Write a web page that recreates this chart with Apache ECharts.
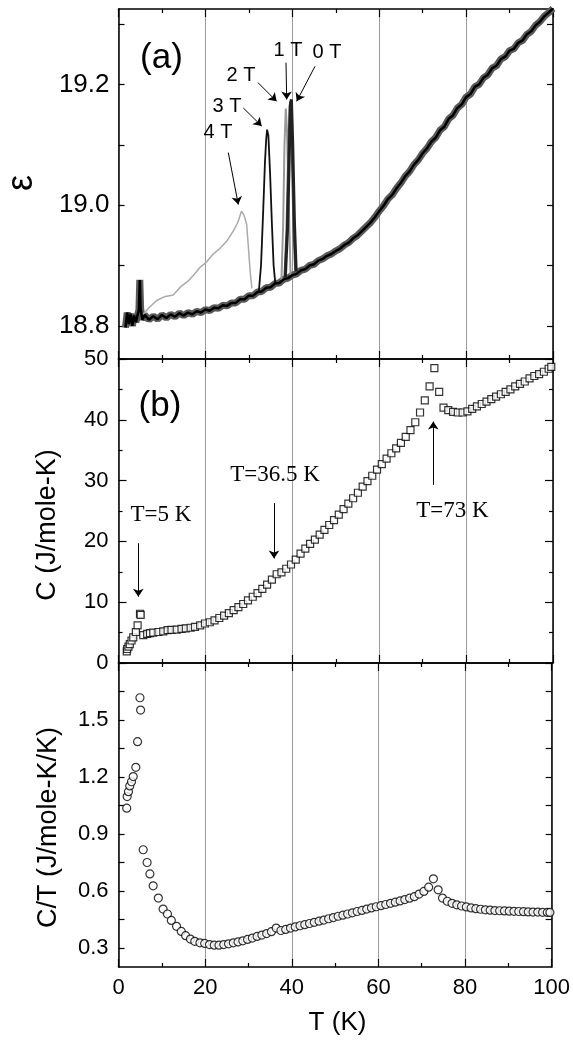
<!DOCTYPE html>
<html>
<head>
<meta charset="utf-8">
<script src="https://cdn.jsdelivr.net/npm/echarts@6/dist/echarts.min.js"></script>
<style>html,body{margin:0;padding:0;background:#fff}#main{width:573px;height:1041px}</style>
</head>
<body>
<div id="main"></div>
<script>
// ---------- Panel (a): dielectric constant vs T ----------
const T_base = [1.6, 2.0, 2.4, 2.8, 3.2, 3.6, 4.0, 4.4, 4.7, 4.9, 5.1, 5.5,
  6, 7, 8, 9, 10, 11, 12, 13, 14, 15, 16, 17, 18, 19, 20, 21, 22, 23, 24, 25, 26, 27, 28, 29,
  30, 31, 32, 33, 34, 35, 36, 37, 38, 39, 40, 41, 42, 43, 44, 45, 46, 47, 48, 49,
  50, 51, 52, 53, 54, 55, 56, 57, 58, 59, 60, 61, 62, 63, 64, 65, 66, 67, 68, 69,
  70, 71, 72, 73, 74, 75, 76, 77, 78, 79, 80, 81, 82, 83, 84, 85, 86, 87, 88, 89,
  90, 91, 92, 93, 94, 95, 96, 97, 98, 99, 100];
const eps_base = [18.797, 18.822, 18.803, 18.820, 18.800, 18.817, 18.806, 18.818, 18.826, 18.876, 18.828, 18.810,
  18.818, 18.810, 18.816, 18.811, 18.818, 18.813, 18.819, 18.815, 18.821, 18.817, 18.822, 18.819, 18.824, 18.822,
  18.827, 18.825, 18.830, 18.829, 18.834, 18.833, 18.838, 18.838, 18.844, 18.844,
  18.850, 18.850, 18.856, 18.857, 18.863, 18.864, 18.870, 18.871, 18.877, 18.879,
  18.884, 18.886, 18.892, 18.894, 18.900, 18.902, 18.908, 18.911, 18.916, 18.919,
  18.924, 18.928, 18.934, 18.938, 18.945, 18.950, 18.957, 18.964, 18.971, 18.980,
  18.990, 18.999, 19.010, 19.017, 19.028, 19.037, 19.048, 19.056, 19.067, 19.075,
  19.086, 19.094, 19.105, 19.112, 19.124, 19.130, 19.143, 19.149, 19.161, 19.167,
  19.179, 19.184, 19.196, 19.200, 19.211, 19.216, 19.227, 19.231, 19.242, 19.246,
  19.256, 19.259, 19.269, 19.273, 19.283, 19.288, 19.298, 19.304, 19.313, 19.319, 19.326];
const T_4T = [5.5, 7, 8.8, 10.5, 12.6, 14.2, 16, 17.5, 18.8, 20.3, 21.8, 23.3, 24.9, 26.5, 27.5, 28.3, 28.9, 29.5, 29.9, 30.3, 30.7];
const eps_4T = [18.818, 18.830, 18.842, 18.848, 18.851, 18.864, 18.874, 18.886, 18.897, 18.906, 18.919, 18.928, 18.940, 18.958, 18.972, 18.990, 18.983, 18.968, 18.930, 18.890, 18.862];
const T_3T = [32.3, 32.8, 33.3, 33.7, 34.0, 34.2, 34.5, 34.9, 35.3, 35.7, 36.1];
const eps_3T = [18.857, 18.900, 18.990, 19.070, 19.110, 19.125, 19.115, 19.050, 18.970, 18.900, 18.870];
const T_2T = [37.5, 37.9, 38.2, 38.5, 38.8, 39.2, 39.6];
const eps_2T = [18.876, 18.970, 19.100, 19.160, 19.120, 19.000, 18.884];
const T_1T = [38.2, 38.7, 39.1, 39.4, 39.6, 39.9, 40.3, 40.7];
const eps_1T = [18.878, 18.960, 19.090, 19.165, 19.170, 19.090, 18.960, 18.888];
const T_0T = [38.4, 38.9, 39.3, 39.6, 39.8, 40.1, 40.5, 40.9];
const eps_0T = [18.880, 18.960, 19.080, 19.170, 19.175, 19.100, 18.970, 18.890];

// ---------- Panels (b) and (c): heat capacity ----------
const T_heat = [1.9, 2.0, 2.3, 2.6, 3.0, 3.4, 4.0, 4.4, 4.95, 5.1,
  5.7, 6.6, 7.25, 8.0, 9.2, 10.3, 11.3, 12.2, 13.4, 14.5,
  15.5, 16.6, 17.6, 18.8, 19.9, 21.0, 22.1, 23.2, 24.3, 25.4,
  26.5, 27.6, 28.7, 29.8, 30.9, 32.0, 33.1, 34.2, 35.3, 36.4,
  37.5, 38.6, 39.7, 40.8, 41.9, 43.0, 44.1, 45.2, 46.3, 47.4,
  48.5, 49.6, 50.7, 51.8, 52.9, 54.0, 55.1, 56.2, 57.3, 58.4,
  59.5, 60.6, 61.7, 62.8, 63.9, 65.0, 66.1, 67.2, 68.3, 69.4,
  70.5, 71.6, 72.7, 73.8, 74.8, 75.9, 77.0, 78.1, 79.2, 80.3,
  81.4, 82.5, 83.6, 84.7, 85.8, 86.9, 88.0, 89.1, 90.2, 91.3,
  92.4, 93.5, 94.6, 95.7, 96.8, 97.9, 99.0, 99.6];
const C_heat = [1.9, 2.3, 2.7, 3.1, 3.7, 4.2, 5.1, 6.2, 8.1, 7.9,
  4.6, 4.8, 4.9, 5.0, 5.1, 5.2, 5.4, 5.45, 5.5, 5.6,
  5.7, 5.8, 5.95, 6.2, 6.5, 6.7, 7.0, 7.4, 7.8, 8.2,
  8.7, 9.2, 9.7, 10.3, 10.9, 11.5, 12.2, 12.9, 13.7, 14.6,
  14.9, 15.5, 16.2, 17.0, 18.0, 18.8, 19.6, 20.3, 21.1, 21.9,
  22.7, 23.5, 24.4, 25.3, 26.2, 27.1, 28.0, 29.0, 29.9, 30.8,
  31.8, 32.7, 33.6, 34.5, 35.3, 36.2, 37.2, 38.3, 39.6, 41.2,
  43.2, 45.5, 48.5, 44.6, 42.0, 41.6, 41.3, 41.2, 41.2, 41.4,
  41.8, 42.2, 42.6, 43.0, 43.4, 43.8, 44.2, 44.6, 45.0, 45.5,
  45.9, 46.3, 46.8, 47.2, 47.5, 47.9, 48.4, 48.7];
const CT_heat = [1.036, 1.097, 1.123, 1.153, 1.175, 1.202, 1.251, 1.386, 1.617, 1.552,
  0.817, 0.750, 0.690, 0.627, 0.563, 0.505, 0.479, 0.445, 0.414, 0.387,
  0.365, 0.347, 0.335, 0.327, 0.324, 0.318, 0.315, 0.315, 0.318, 0.322,
  0.327, 0.332, 0.338, 0.345, 0.352, 0.361, 0.368, 0.376, 0.386, 0.405,
  0.392, 0.398, 0.405, 0.411, 0.417, 0.423, 0.429, 0.435, 0.441, 0.447,
  0.454, 0.460, 0.467, 0.473, 0.479, 0.485, 0.492, 0.498, 0.505, 0.511,
  0.517, 0.523, 0.529, 0.535, 0.541, 0.548, 0.555, 0.562, 0.570, 0.584,
  0.598, 0.620, 0.664, 0.606, 0.563, 0.546, 0.535, 0.527, 0.521, 0.516,
  0.511, 0.507, 0.504, 0.501, 0.499, 0.497, 0.496, 0.495, 0.494, 0.493,
  0.492, 0.491, 0.490, 0.489, 0.489, 0.488, 0.487, 0.487];

// ---------- Tick values ----------
const epsTicks = [18.8, 18.9, 19.0, 19.1, 19.2, 19.3];
const epsLabels = [18.8, 19.0, 19.2];
const ctTicks = [0.3, 0.45, 0.6, 0.75, 0.9, 1.05, 1.2, 1.35, 1.5, 1.65];
const ctLabels = [0.3, 0.6, 0.9, 1.2, 1.5];

// ---------- Annotations (arrows in data units) ----------
const arrowsA = [
  [[25.27, 19.087], [27.57, 19.001]],
  [[28.72, 19.161], [32.96, 19.131]],
  [[32.10, 19.203], [36.40, 19.172]],
  [[38.55, 19.236], [38.71, 19.175]],
  [[45.22, 19.230], [41.01, 19.172]]
];
const arrowsB = [
  [[4.56, 19.7], [4.56, 10.9]],
  [[35.79, 26.3], [35.79, 17.2]],
  [[72.45, 29.3], [72.45, 39.7]]
];

const zip = (xs, ys) => xs.map((x, i) => [x, ys[i]]);
const SANS = 'Liberation Sans, Arial, sans-serif';
const SERIF = 'Liberation Serif, Times New Roman, serif';
const gridsPx = [
  {left: 118.5, right: 20, top: 9, height: 350},
  {left: 118.5, right: 20, top: 359, height: 304},
  {left: 118.5, right: 20, top: 663, height: 304}
];
const lineSt = {color: '#000', width: 1.5};
const tickSt = {color: '#000', width: 1.2};

function xAx(g, pos) {
  return {
    type: 'value', gridIndex: g, position: pos, min: 0, max: 100, interval: 20,
    axisLine: {show: true, onZero: false, lineStyle: lineSt},
    axisTick: {show: true, inside: true, length: 8, lineStyle: tickSt},
    minorTick: {show: true, splitNumber: 2, length: 4, lineStyle: tickSt},
    axisLabel: {show: g === 2 && pos === 'bottom', fontSize: 22, fontFamily: SANS, color: '#000', margin: 10,
      showMinLabel: true, showMaxLabel: true},
    splitLine: {show: pos === 'bottom', lineStyle: {color: '#9a9a9a', width: 1}}
  };
}
function yAx(g, pos, cfg) {
  const showL = pos === 'left';
  const o = {
    type: 'value', gridIndex: g, position: pos, min: cfg.min, max: cfg.max,
    axisLine: {show: true, onZero: false, lineStyle: lineSt},
    axisTick: {show: true, inside: true, length: 6, lineStyle: tickSt},
    axisLabel: {show: showL, fontSize: cfg.fs, fontFamily: SANS, color: '#000', margin: cfg.margin,
      showMinLabel: true, showMaxLabel: true},
    splitLine: {show: false}
  };
  if (cfg.interval) {
    o.interval = cfg.interval;
    o.axisTick.length = 8;
    o.minorTick = {show: true, splitNumber: 2, length: 4, lineStyle: tickSt};
  } else {
    o.axisTick.customValues = cfg.ticks;
    o.axisLabel.customValues = cfg.labels;
    o.axisLabel.formatter = v => Number(v).toFixed(1);
  }
  return o;
}
const yA = {min: 18.745, max: 19.325, ticks: epsTicks, labels: epsLabels, fs: 26, margin: 9};
const yB = {min: 0, max: 50, interval: 10, fs: 22, margin: 10};
const yC = {min: 0.2, max: 1.8, ticks: ctTicks, labels: ctLabels, fs: 22, margin: 10};

function arrowLine(list) {
  return {
    silent: true, symbol: ['none', 'arrow'], symbolSize: 8, animation: false,
    lineStyle: {color: '#000', width: 1, type: 'solid'},
    label: {show: false}, emphasis: {disabled: true},
    data: list.map(a => [{coord: a[0]}, {coord: a[1]}])
  };
}
function txt(x, y, s, font, rot) {
  return {type: 'text', x: x, y: y, rotation: rot || 0, z: 100,
    style: {text: s, font: font, fill: '#000', textAlign: 'center', textVerticalAlign: 'middle', verticalAlign: 'middle'}};
}
const lineSeries = (name, xs, ys, color, w, z) => ({
  name: name, type: 'line', xAxisIndex: 0, yAxisIndex: 0, data: zip(xs, ys), showSymbol: false,
  symbol: 'none', lineStyle: {color: color, width: w}, z: z, silent: true, clip: true
});

const chart = echarts.init(document.getElementById('main'));
chart.setOption({
  animation: false,
  backgroundColor: '#fff',
  grid: gridsPx,
  xAxis: [xAx(0, 'bottom'), xAx(0, 'top'), xAx(1, 'bottom'), xAx(1, 'top'), xAx(2, 'bottom'), xAx(2, 'top')],
  yAxis: [yAx(0, 'left', yA), yAx(0, 'right', yA), yAx(1, 'left', yB), yAx(1, 'right', yB), yAx(2, 'left', yC), yAx(2, 'right', yC)],
  series: [
    lineSeries('band', T_base, eps_base, '#5a5a5a', 7, 1),
    lineSeries('4 T', T_4T, eps_4T, '#aaaaaa', 1.5, 2),
    lineSeries('3 T', T_3T, eps_3T, '#111', 1.8, 3),
    lineSeries('2 T', T_2T, eps_2T, '#9a9a9a', 2, 3),
    lineSeries('1 T', T_1T, eps_1T, '#555', 2.2, 3),
    lineSeries('0 T', T_0T, eps_0T, '#222', 3, 3),
    Object.assign(lineSeries('base', T_base, eps_base, '#000', 2.5, 4), {markLine: arrowLine(arrowsA)}),
    {
      name: 'C', type: 'scatter', xAxisIndex: 2, yAxisIndex: 2, data: zip(T_heat, C_heat),
      symbol: 'rect', symbolSize: 7, itemStyle: {color: '#fff', borderColor: '#000', borderWidth: 1.2},
      silent: true, markLine: arrowLine(arrowsB)
    },
    {
      name: 'C/T', type: 'scatter', xAxisIndex: 4, yAxisIndex: 4, data: zip(T_heat, CT_heat),
      symbol: 'circle', symbolSize: 8, itemStyle: {color: '#fff', borderColor: '#000', borderWidth: 1.2},
      silent: true
    }
  ],
  graphic: [
    txt(161.5, 58, '(a)', '35px ' + SANS),
    txt(288, 50, '1 T', '20px ' + SANS),
    txt(327, 52, '0 T', '20px ' + SANS),
    txt(241, 75, '2 T', '20px ' + SANS),
    txt(227, 106, '3 T', '20px ' + SANS),
    txt(218, 132, '4 T', '20px ' + SANS),
    txt(160, 406, '(b)', '35px ' + SANS),
    txt(161, 515, 'T=5 K', '23px ' + SERIF),
    txt(275, 475, 'T=36.5 K', '23px ' + SERIF),
    txt(452.5, 511, 'T=73 K', '23px ' + SERIF),
    txt(22, 183, 'ε', '36px ' + SANS, Math.PI / 2),
    txt(47.5, 525, 'C (J/mole-K)', '27px ' + SANS, Math.PI / 2),
    txt(49, 827.5, 'C/T (J/mole-K/K)', '27px ' + SANS, Math.PI / 2),
    txt(337.5, 1023, 'T (K)', '26px ' + SANS)
  ]
});
</script>
</body>
</html>
